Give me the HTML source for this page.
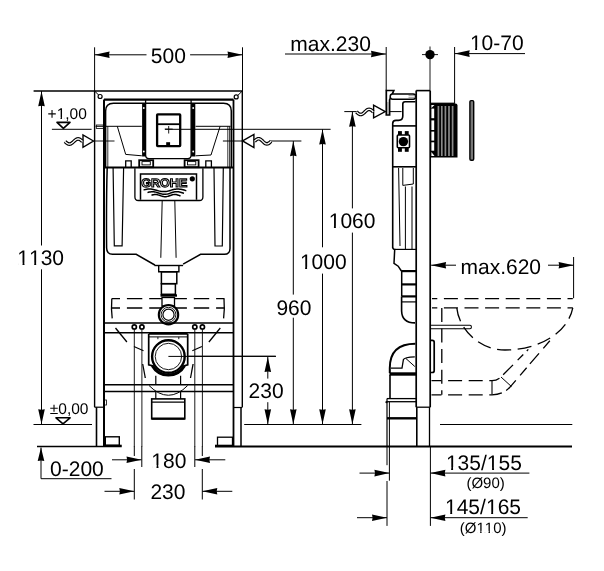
<!DOCTYPE html>
<html><head><meta charset="utf-8"><style>
html,body{margin:0;padding:0;background:#fff;}
svg{display:block;will-change:transform;}
text{font-family:"Liberation Sans",sans-serif;text-rendering:geometricPrecision;}
</style></head><body>
<svg width="604" height="571" viewBox="0 0 604 571" stroke="#000" stroke-linecap="butt" fill="none">
<line x1="94.6" y1="47.3" x2="94.6" y2="91" stroke-width="1.0" />
<line x1="242.5" y1="47.3" x2="242.5" y2="91" stroke-width="1.0" />
<line x1="94.6" y1="54.8" x2="146.5" y2="54.8" stroke-width="1.0" />
<line x1="190.1" y1="54.8" x2="242.5" y2="54.8" stroke-width="1.0" />
<polygon points="94.60,54.80 109.60,51.50 109.00,54.80 109.60,58.10" fill="#000" stroke="none"/>
<polygon points="242.50,54.80 227.50,51.50 228.10,54.80 227.50,58.10" fill="#000" stroke="none"/>
<text x="150.80" y="62.6" font-size="21" stroke="none" fill="#000">500</text>
<line x1="33.6" y1="91" x2="242.5" y2="91" stroke-width="1.6" />
<line x1="41.5" y1="91" x2="41.5" y2="245.5" stroke-width="1.0" />
<line x1="41.5" y1="269.3" x2="41.5" y2="424.3" stroke-width="1.0" />
<polygon points="41.50,91.30 38.20,106.30 41.50,105.70 44.80,106.30" fill="#000" stroke="none"/>
<polygon points="41.50,424.20 38.20,409.20 41.50,409.80 44.80,409.20" fill="#000" stroke="none"/>
<text x="17.30" y="265.3" font-size="21" stroke="none" fill="#000">1</text>
<rect x="18.30" y="262.80" width="4.22" height="3.10" fill="#fff" stroke="none"/>
<rect x="24.48" y="262.80" width="3.92" height="3.10" fill="#fff" stroke="none"/>
<text x="29.00" y="265.3" font-size="21" stroke="none" fill="#000">1</text>
<rect x="30.00" y="262.80" width="4.22" height="3.10" fill="#fff" stroke="none"/>
<rect x="36.18" y="262.80" width="3.92" height="3.10" fill="#fff" stroke="none"/>
<text x="40.68" y="265.3" font-size="21" stroke="none" fill="#000">30</text>
<text x="47.60" y="118.9" font-size="15.5" stroke="none" fill="#000">+</text>
<text x="56.65" y="118.9" font-size="15.5" stroke="none" fill="#000">1</text>
<rect x="57.39" y="117.05" width="3.11" height="2.45" fill="#fff" stroke="none"/>
<rect x="61.95" y="117.05" width="2.89" height="2.45" fill="#fff" stroke="none"/>
<text x="65.25" y="118.9" font-size="15.5" stroke="none" fill="#000">,00</text>
<polygon points="57,122.4 70,122.4 63.4,128.4" stroke-width="1.6" fill="none" stroke-linejoin="round"/>
<line x1="51.9" y1="129.3" x2="91.6" y2="129.3" stroke-width="1.0" />
<polygon points="93.5,141 83,135 83,147.3" stroke-width="1.4" fill="none" />
<polyline points="65.0,141.5 65.73,142.17 66.46,142.8 67.19,143.34 67.92,143.75 68.65,144.01 69.38,144.1 70.1,144.01 70.83,143.75 71.56,143.34 72.29,142.8 73.02,142.17 73.75,141.5 74.48,140.83 75.21,140.2 75.94,139.66 76.67,139.25 77.4,138.99 78.12,138.9 78.85,138.99 79.58,139.25 80.31,139.66 81.04,140.2 81.77,140.83 82.5,141.5" stroke-width="3.6" fill="none"/>
<polyline points="65.0,141.5 65.73,142.17 66.46,142.8 67.19,143.34 67.92,143.75 68.65,144.01 69.38,144.1 70.1,144.01 70.83,143.75 71.56,143.34 72.29,142.8 73.02,142.17 73.75,141.5 74.48,140.83 75.21,140.2 75.94,139.66 76.67,139.25 77.4,138.99 78.12,138.9 78.85,138.99 79.58,139.25 80.31,139.66 81.04,140.2 81.77,140.83 82.5,141.5" stroke-width="1.3" stroke="#fff" fill="none"/>
<line x1="93.5" y1="141" x2="114.5" y2="141" stroke-width="0.9" />
<text x="49.80" y="413.8" font-size="15.5" stroke="none" fill="#000">±0,00</text>
<polygon points="56,417.8 70.1,417.8 63,423.8" stroke-width="1.6" fill="none" stroke-linejoin="round"/>
<line x1="33.5" y1="424.5" x2="92" y2="424.5" stroke-width="1.0" />
<line x1="37" y1="446.5" x2="121.7" y2="446.5" stroke-width="1.6" />
<line x1="41" y1="447.5" x2="41" y2="478.7" stroke-width="1.0" />
<line x1="41" y1="478.7" x2="111.5" y2="478.7" stroke-width="1.0" />
<polygon points="41.00,447.60 37.70,461.10 41.00,460.50 44.30,461.10" fill="#000" stroke="none"/>
<text x="50.10" y="475.8" font-size="21" stroke="none" fill="#000">0-200</text>
<line x1="112" y1="459.8" x2="141.5" y2="459.8" stroke-width="1.0" />
<polygon points="141.50,459.80 126.50,456.50 127.10,459.80 126.50,463.10" fill="#000" stroke="none"/>
<line x1="195" y1="459.8" x2="225.3" y2="459.8" stroke-width="1.0" />
<polygon points="195.00,459.80 210.00,456.50 209.40,459.80 210.00,463.10" fill="#000" stroke="none"/>
<text x="151.30" y="467.6" font-size="21" stroke="none" fill="#000">1</text>
<rect x="152.30" y="465.10" width="4.22" height="3.10" fill="#fff" stroke="none"/>
<rect x="158.48" y="465.10" width="3.92" height="3.10" fill="#fff" stroke="none"/>
<text x="163.00" y="467.6" font-size="21" stroke="none" fill="#000">80</text>
<line x1="104.5" y1="491.3" x2="134.3" y2="491.3" stroke-width="1.0" />
<polygon points="134.30,491.30 119.30,488.00 119.90,491.30 119.30,494.60" fill="#000" stroke="none"/>
<line x1="202.3" y1="491.3" x2="232.3" y2="491.3" stroke-width="1.0" />
<polygon points="202.30,491.30 217.30,488.00 216.70,491.30 217.30,494.60" fill="#000" stroke="none"/>
<text x="150.40" y="499.1" font-size="21" stroke="none" fill="#000">230</text>
<line x1="134.3" y1="446" x2="134.3" y2="456" stroke-width="1.0" />
<line x1="134.3" y1="469" x2="134.3" y2="499.5" stroke-width="1.0" />
<line x1="141.8" y1="446" x2="141.8" y2="467" stroke-width="1.0" />
<line x1="194.8" y1="446" x2="194.8" y2="467" stroke-width="1.0" />
<line x1="202.3" y1="446" x2="202.3" y2="456" stroke-width="1.0" />
<line x1="202.3" y1="469" x2="202.3" y2="499.5" stroke-width="1.0" />
<line x1="270" y1="141" x2="301.4" y2="141" stroke-width="1.0" />
<line x1="293.3" y1="141" x2="293.3" y2="294.6" stroke-width="1.0" />
<line x1="293.3" y1="317.7" x2="293.3" y2="424.3" stroke-width="1.0" />
<polygon points="293.30,141.20 290.00,156.20 293.30,155.60 296.60,156.20" fill="#000" stroke="none"/>
<polygon points="293.30,424.20 290.00,409.20 293.30,409.80 296.60,409.20" fill="#000" stroke="none"/>
<text x="276.40" y="314.5" font-size="21" stroke="none" fill="#000">960</text>
<line x1="165" y1="129.3" x2="330.6" y2="129.3" stroke-width="1.0" />
<line x1="322.5" y1="129.3" x2="322.5" y2="247.3" stroke-width="1.0" />
<line x1="322.5" y1="273.6" x2="322.5" y2="424.3" stroke-width="1.0" />
<polygon points="322.50,129.50 319.20,144.50 322.50,143.90 325.80,144.50" fill="#000" stroke="none"/>
<polygon points="322.50,424.20 319.20,409.20 322.50,409.80 325.80,409.20" fill="#000" stroke="none"/>
<text x="299.90" y="269.4" font-size="21" stroke="none" fill="#000">1</text>
<rect x="300.90" y="266.90" width="4.22" height="3.10" fill="#fff" stroke="none"/>
<rect x="307.08" y="266.90" width="3.92" height="3.10" fill="#fff" stroke="none"/>
<text x="311.60" y="269.4" font-size="21" stroke="none" fill="#000">000</text>
<line x1="344.3" y1="111.6" x2="356.8" y2="111.6" stroke-width="1.0" />
<line x1="385.5" y1="111.6" x2="401.6" y2="111.6" stroke-width="1.0" />
<line x1="352.4" y1="111.7" x2="352.4" y2="208.4" stroke-width="1.0" />
<line x1="352.4" y1="232.6" x2="352.4" y2="424.3" stroke-width="1.0" />
<polygon points="352.40,111.80 349.10,126.80 352.40,126.20 355.70,126.80" fill="#000" stroke="none"/>
<polygon points="352.40,424.20 349.10,409.20 352.40,409.80 355.70,409.20" fill="#000" stroke="none"/>
<text x="328.70" y="228.4" font-size="21" stroke="none" fill="#000">1</text>
<rect x="329.70" y="225.90" width="4.22" height="3.10" fill="#fff" stroke="none"/>
<rect x="335.88" y="225.90" width="3.92" height="3.10" fill="#fff" stroke="none"/>
<text x="340.40" y="228.4" font-size="21" stroke="none" fill="#000">060</text>
<line x1="168" y1="356.2" x2="275.7" y2="356.2" stroke-width="1.0" />
<line x1="267.8" y1="357" x2="267.8" y2="378.6" stroke-width="1.0" />
<line x1="267.8" y1="402.2" x2="267.8" y2="424.3" stroke-width="1.0" />
<polygon points="267.80,357.10 264.50,372.10 267.80,371.50 271.10,372.10" fill="#000" stroke="none"/>
<polygon points="267.80,424.20 264.50,409.20 267.80,409.80 271.10,409.20" fill="#000" stroke="none"/>
<text x="248.60" y="398.3" font-size="21" stroke="none" fill="#000">230</text>
<line x1="244.2" y1="424.5" x2="361.4" y2="424.5" stroke-width="1.0" />
<line x1="440" y1="424.5" x2="572.3" y2="424.5" stroke-width="1.0" />
<line x1="215" y1="446.5" x2="572" y2="446.5" stroke-width="1.8" />
<text x="290.30" y="50.9" font-size="21" stroke="none" fill="#000">max.230</text>
<line x1="285" y1="54" x2="386" y2="54" stroke-width="1.0" />
<polygon points="386.00,54.00 371.00,50.70 371.60,54.00 371.00,57.30" fill="#000" stroke="none"/>
<line x1="386.2" y1="47" x2="386.2" y2="90.5" stroke-width="1.0" />
<circle cx="430" cy="54.6" r="4.7" stroke-width="0" fill="#000" stroke="none"/>
<line x1="422" y1="54.6" x2="438" y2="54.6" stroke-width="0.9" />
<line x1="430" y1="46.5" x2="430" y2="90.5" stroke-width="0.9" />
<text x="469.90" y="49.9" font-size="21" stroke="none" fill="#000">1</text>
<rect x="470.90" y="47.40" width="4.22" height="3.10" fill="#fff" stroke="none"/>
<rect x="477.08" y="47.40" width="3.92" height="3.10" fill="#fff" stroke="none"/>
<text x="481.60" y="49.9" font-size="21" stroke="none" fill="#000">0-70</text>
<line x1="454.7" y1="53.6" x2="525" y2="53.6" stroke-width="1.0" />
<polygon points="454.70,53.60 469.70,50.30 469.10,53.60 469.70,56.90" fill="#000" stroke="none"/>
<line x1="454.6" y1="47" x2="454.6" y2="103" stroke-width="1.0" />
<text x="460.50" y="273.6" font-size="21" stroke="none" fill="#000">max.620</text>
<line x1="431.1" y1="265.2" x2="456" y2="265.2" stroke-width="1.0" />
<polygon points="431.10,265.20 446.10,261.90 445.50,265.20 446.10,268.50" fill="#000" stroke="none"/>
<line x1="548" y1="265.2" x2="573.6" y2="265.2" stroke-width="1.0" />
<polygon points="573.60,265.20 558.60,261.90 559.20,265.20 558.60,268.50" fill="#000" stroke="none"/>
<line x1="573.6" y1="257" x2="573.6" y2="298.2" stroke-width="1.0" />
<line x1="359.5" y1="473.1" x2="389.4" y2="473.1" stroke-width="1.0" />
<polygon points="389.40,473.10 374.40,469.80 375.00,473.10 374.40,476.40" fill="#000" stroke="none"/>
<line x1="430.4" y1="473.1" x2="529.4" y2="473.1" stroke-width="1.0" />
<polygon points="430.40,473.10 445.40,469.80 444.80,473.10 445.40,476.40" fill="#000" stroke="none"/>
<text x="445.90" y="469.5" font-size="21" stroke="none" fill="#000">1</text>
<rect x="446.90" y="467.00" width="4.22" height="3.10" fill="#fff" stroke="none"/>
<rect x="453.08" y="467.00" width="3.92" height="3.10" fill="#fff" stroke="none"/>
<text x="457.60" y="469.5" font-size="21" stroke="none" fill="#000">35/</text>
<text x="486.85" y="469.5" font-size="21" stroke="none" fill="#000">1</text>
<rect x="487.85" y="467.00" width="4.22" height="3.10" fill="#fff" stroke="none"/>
<rect x="494.03" y="467.00" width="3.92" height="3.10" fill="#fff" stroke="none"/>
<text x="498.55" y="469.5" font-size="21" stroke="none" fill="#000">55</text>
<text x="466.40" y="487.5" font-size="15" stroke="none" fill="#000">(Ø90)</text>
<line x1="357" y1="517.7" x2="387" y2="517.7" stroke-width="1.0" />
<polygon points="387.00,517.70 372.00,514.40 372.60,517.70 372.00,521.00" fill="#000" stroke="none"/>
<line x1="430.4" y1="517.7" x2="527.7" y2="517.7" stroke-width="1.0" />
<polygon points="430.40,517.70 445.40,514.40 444.80,517.70 445.40,521.00" fill="#000" stroke="none"/>
<text x="445.00" y="514.4" font-size="21" stroke="none" fill="#000">1</text>
<rect x="446.00" y="511.90" width="4.22" height="3.10" fill="#fff" stroke="none"/>
<rect x="452.18" y="511.90" width="3.92" height="3.10" fill="#fff" stroke="none"/>
<text x="456.70" y="514.4" font-size="21" stroke="none" fill="#000">45/</text>
<text x="485.95" y="514.4" font-size="21" stroke="none" fill="#000">1</text>
<rect x="486.95" y="511.90" width="4.22" height="3.10" fill="#fff" stroke="none"/>
<rect x="493.13" y="511.90" width="3.92" height="3.10" fill="#fff" stroke="none"/>
<text x="497.65" y="514.4" font-size="21" stroke="none" fill="#000">65</text>
<text x="459.80" y="532.6" font-size="15" stroke="none" fill="#000">(Ø</text>
<text x="476.45" y="532.6" font-size="15" stroke="none" fill="#000">1</text>
<rect x="477.16" y="530.81" width="3.01" height="2.39" fill="#fff" stroke="none"/>
<rect x="481.58" y="530.81" width="2.80" height="2.39" fill="#fff" stroke="none"/>
<text x="484.80" y="532.6" font-size="15" stroke="none" fill="#000">1</text>
<rect x="485.51" y="530.81" width="3.01" height="2.39" fill="#fff" stroke="none"/>
<rect x="489.93" y="530.81" width="2.80" height="2.39" fill="#fff" stroke="none"/>
<text x="493.13" y="532.6" font-size="15" stroke="none" fill="#000">0)</text>
<line x1="387" y1="446" x2="387" y2="465.2" stroke-width="1.0" />
<line x1="387" y1="481" x2="387" y2="525.9" stroke-width="1.0" />
<line x1="389.4" y1="446" x2="389.4" y2="480.7" stroke-width="1.0" />
<line x1="430.4" y1="446" x2="430.4" y2="525.9" stroke-width="1.0" />
<line x1="94.6" y1="91" x2="94.6" y2="407.2" stroke-width="1.4" />
<line x1="104" y1="99.4" x2="104" y2="446.5" stroke-width="2.0" />
<line x1="242.3" y1="91" x2="242.3" y2="407.2" stroke-width="1.4" />
<line x1="233.5" y1="99.4" x2="233.5" y2="446.5" stroke-width="1.8" />
<line x1="94.6" y1="407.2" x2="104" y2="407.2" stroke-width="1.2" />
<line x1="233.5" y1="407.5" x2="242.3" y2="407.5" stroke-width="1.2" />
<line x1="96.5" y1="407.2" x2="96.5" y2="446.5" stroke-width="1.6" />
<line x1="241" y1="407.5" x2="241" y2="446.5" stroke-width="1.5" />
<line x1="104" y1="99.7" x2="233.5" y2="99.7" stroke-width="2.2" />
<line x1="94.6" y1="91" x2="98.6" y2="95" stroke-width="1.0" />
<circle cx="100.1" cy="96.5" r="2.0" stroke-width="1.2" fill="none" />
<line x1="242.3" y1="91" x2="237.7" y2="95.5" stroke-width="1.0" />
<circle cx="236.2" cy="96.9" r="2.0" stroke-width="1.2" fill="none" />
<rect x="105.3" y="436.8" width="14" height="8.5" rx="0" stroke-width="1.4" fill="none" />
<line x1="104.6" y1="445.5" x2="121.7" y2="445.5" stroke-width="1.6" />
<rect x="217.5" y="437.2" width="15" height="8.5" rx="0" stroke-width="1.3" fill="none" />
<line x1="215" y1="445.5" x2="233" y2="445.5" stroke-width="1.6" />
<rect x="104.5" y="400" width="2" height="5" rx="0" stroke-width="0.8" fill="none" />
<path d="M105.6,167.5 L105.6,111 Q105.6,103.2 113.5,103.2 L223.5,103.2 Q231.3,103.2 231.3,111 L231.3,167.5" stroke-width="1.5" fill="none" />
<path d="M107.2,167.5 Q106.2,200 106.6,248 Q106.8,254.3 112.5,254.3 L136.2,254.3 L154.4,264.8 L154.4,265.5" stroke-width="1.5" fill="none" />
<path d="M230,167.5 L230,248.5 Q230,254.3 224.4,254.3 L200.6,254.3 L183.1,264.1" stroke-width="1.5" fill="none" />
<line x1="107.8" y1="126.3" x2="107.8" y2="167.5" stroke-width="0.8" />
<line x1="227.8" y1="126.3" x2="227.8" y2="167.5" stroke-width="0.8" />
<line x1="229.6" y1="126.3" x2="229.6" y2="167.5" stroke-width="0.8" />
<line x1="104" y1="167.6" x2="233.5" y2="167.6" stroke-width="2.0" />
<line x1="95.6" y1="126.3" x2="141.8" y2="126.3" stroke-width="1.0" />
<polyline points="117.3,126.3 125.7,154.4 141.8,155.8" stroke-width="1.0" fill="none" />
<line x1="195.6" y1="126.3" x2="230.6" y2="126.3" stroke-width="1.0" />
<polyline points="220.1,126.3 211,155 195.6,155.8" stroke-width="1.0" fill="none" />
<rect x="96.3" y="125" width="7" height="3.4" rx="0" stroke-width="0.8" fill="none" />
<path d="M145.6,100 L145.6,155 Q145.6,158.6 149,158.6 L187.7,158.6 Q191.1,158.6 191.1,155 L191.1,100" stroke-width="1.3" fill="none" />
<rect x="142.1" y="103.2" width="3.5" height="53.3" rx="0" stroke-width="0" fill="#000" stroke="none"/>
<rect x="191.1" y="103.2" width="4.2" height="53.3" rx="0" stroke-width="0" fill="#000" stroke="none"/>
<circle cx="143.8" cy="108" r="0.9" stroke-width="0" fill="#fff" stroke="none"/>
<circle cx="143.8" cy="151.5" r="0.9" stroke-width="0" fill="#fff" stroke="none"/>
<circle cx="193.2" cy="108" r="0.9" stroke-width="0" fill="#fff" stroke="none"/>
<circle cx="193.2" cy="151.5" r="0.9" stroke-width="0" fill="#fff" stroke="none"/>
<rect x="157.1" y="114.3" width="23.1" height="31.8" rx="0.6" stroke-width="2.3" fill="none" />
<line x1="157.3" y1="124.2" x2="180.3" y2="124.2" stroke-width="1.8" />
<rect x="166.2" y="142.2" width="3.9" height="3" rx="0" stroke-width="0" fill="#000" stroke="none"/>
<line x1="164.7" y1="129.1" x2="172.7" y2="129.1" stroke-width="0.9" />
<line x1="168.7" y1="126" x2="168.7" y2="133.5" stroke-width="0.9" />
<polyline points="125.7,167 125.7,160.8 131.2,160.8 131.2,167" stroke-width="1.3" fill="none" />
<polyline points="205.8,167 205.8,160.8 211.4,160.8 211.4,167" stroke-width="1.3" fill="none" />
<rect x="139.2" y="160.2" width="14" height="7" rx="0" stroke-width="1.8" fill="none" />
<rect x="142" y="161.6" width="8.3" height="3.3" rx="0" stroke-width="0.9" fill="none" />
<rect x="184.6" y="160.2" width="14" height="7" rx="0" stroke-width="1.8" fill="none" />
<rect x="187.5" y="161.6" width="8.3" height="3.3" rx="0" stroke-width="0.9" fill="none" />
<path d="M134.9,168.3 L134.9,197 Q134.9,200.5 138.4,200.5 L199.4,200.5 Q202.9,200.5 202.9,197 L202.9,168.3" stroke-width="1.3" fill="none" />
<path d="M140.5,199.8 L140.5,173.9 L196.5,173.9 L196.5,199.8" stroke-width="1.5" fill="none" />
<text x="141.3" y="186.6" font-size="12" font-weight="bold" fill="#fff" stroke="#000" stroke-width="1.1" textLength="46" lengthAdjust="spacingAndGlyphs" font-family="Liberation Sans">GROHE</text>
<circle cx="192.3" cy="178.8" r="2.6" stroke-width="0" fill="#000" stroke="none"/>
<polyline points="143.6,189.92 144.67,189.64 145.73,189.39 146.8,189.2 147.87,189.07 148.94,189.01 150.0,189.01 151.07,189.09 152.14,189.24 153.21,189.44 154.28,189.69 155.34,189.98 156.41,190.28 157.48,190.59 158.54,190.87 159.61,191.13 160.68,191.34 161.75,191.49 162.81,191.58 163.88,191.6 164.95,191.54 166.02,191.42 167.09,191.23 168.15,190.99 169.22,190.72 170.29,190.42 171.36,190.11 172.42,189.82 173.49,189.55 174.56,189.32 175.62,189.15 176.69,189.04 177.76,189.0 178.83,189.03 179.9,189.13 180.96,189.3 182.03,189.52 183.1,189.79 184.17,190.08 185.23,190.38 186.3,190.68" stroke-width="1.5" fill="none" />
<polyline points="147.5,192.62 148.41,192.34 149.32,192.09 150.24,191.9 151.15,191.77 152.06,191.71 152.97,191.71 153.89,191.79 154.8,191.94 155.71,192.14 156.62,192.39 157.54,192.68 158.45,192.98 159.36,193.29 160.28,193.57 161.19,193.83 162.1,194.04 163.01,194.19 163.93,194.28 164.84,194.3 165.75,194.24 166.66,194.12 167.57,193.93 168.49,193.69 169.4,193.42 170.31,193.12 171.22,192.81 172.14,192.52 173.05,192.25 173.96,192.02 174.88,191.85 175.79,191.74 176.7,191.7 177.61,191.73 178.53,191.83 179.44,192.0 180.35,192.22 181.26,192.49 182.18,192.78 183.09,193.08 184.0,193.38" stroke-width="1.5" fill="none" />
<polyline points="151.5,195.27 152.22,195.04 152.95,194.83 153.68,194.67 154.4,194.56 155.12,194.5 155.85,194.51 156.57,194.58 157.3,194.7 158.03,194.87 158.75,195.09 159.47,195.33 160.2,195.58 160.93,195.84 161.65,196.09 162.38,196.3 163.1,196.48 163.82,196.61 164.55,196.68 165.28,196.7 166.0,196.65 166.72,196.55 167.45,196.39 168.18,196.19 168.9,195.95 169.62,195.7 170.35,195.44 171.07,195.19 171.8,194.97 172.53,194.77 173.25,194.63 173.97,194.53 174.7,194.5 175.43,194.53 176.15,194.61 176.88,194.75 177.6,194.94 178.32,195.16 179.05,195.41 179.78,195.67 180.5,195.93" stroke-width="1.5" fill="none" />
<polyline points="113.1,168 114.3,245.9 122.1,245.9 123.6,168" stroke-width="1.2" fill="none" />
<polyline points="214,168 215,246 222.3,246 223.3,168" stroke-width="1.2" fill="none" />
<line x1="162.2" y1="200.5" x2="160.8" y2="257.8" stroke-width="1.0" />
<line x1="174.8" y1="200.5" x2="176.1" y2="257.8" stroke-width="1.0" />
<polyline points="154.4,265.5 183.1,265.5" stroke-width="1.4" fill="none" />
<polyline points="158.7,265.5 158.7,271.8 178.9,271.8 178.9,265.5" stroke-width="1.4" fill="none" />
<rect x="161.4" y="271.8" width="15.4" height="11.9" rx="0" stroke-width="1.5" fill="none" />
<rect x="161.4" y="283.7" width="14" height="10.6" rx="0" stroke-width="1.5" fill="none" />
<line x1="160.5" y1="295.5" x2="177" y2="295.5" stroke-width="2.4" />
<line x1="111.5" y1="298.6" x2="224.6" y2="298.6" stroke-width="1.3" stroke-dasharray="15.4 6.9" stroke-dashoffset="6.9"/>
<line x1="111.5" y1="308.0" x2="224.6" y2="308.0" stroke-width="1.3" stroke-dasharray="15.4 6.9" stroke-dashoffset="6.9"/>
<path d="M111.8,299 Q111.0,309 112.2,318.4" stroke-width="1.3" fill="none" />
<path d="M224.0,299 Q224.8,309 223.6,318.4" stroke-width="1.3" fill="none" />
<line x1="115.5" y1="328" x2="126.9" y2="342" stroke-width="1.3" />
<line x1="220.3" y1="328" x2="208.9" y2="342" stroke-width="1.3" />
<line x1="133.9" y1="346.4" x2="143.5" y2="350.8" stroke-width="1.1" />
<line x1="201.9" y1="346.4" x2="192.3" y2="350.8" stroke-width="1.1" />
<line x1="142.7" y1="364" x2="145.3" y2="378" stroke-width="1.3" />
<line x1="193.1" y1="364" x2="190.5" y2="378" stroke-width="1.3" />
<rect x="162" y="297.5" width="12.5" height="8.5" rx="0" stroke-width="1.3" fill="#fff" />
<circle cx="168.5" cy="314.7" r="9.7" stroke-width="2.1" fill="#fff" />
<circle cx="168.5" cy="314.7" r="7.4" stroke-width="0.9" fill="none" />
<circle cx="168.5" cy="314.7" r="5.6" stroke-width="1.2" fill="none" />
<line x1="104" y1="323" x2="233.5" y2="323" stroke-width="1.6" />
<line x1="104" y1="332.8" x2="233.5" y2="332.8" stroke-width="1.5" />
<circle cx="134.3" cy="326.9" r="2.1" stroke-width="1.7" fill="none" />
<circle cx="141.9" cy="326.9" r="2.1" stroke-width="1.7" fill="none" />
<circle cx="194.8" cy="326.9" r="2.1" stroke-width="1.7" fill="none" />
<circle cx="202.4" cy="326.9" r="2.1" stroke-width="1.7" fill="none" />
<line x1="134.3" y1="329" x2="134.3" y2="446.5" stroke-width="0.9" />
<line x1="141.9" y1="329" x2="141.9" y2="446.5" stroke-width="0.9" />
<line x1="194.8" y1="329" x2="194.8" y2="446.5" stroke-width="0.9" />
<line x1="202.4" y1="329" x2="202.4" y2="446.5" stroke-width="0.9" />
<path d="M148.7,334 L148.7,364.8 L152.3,365.8 A18.6,18.6 0 0 0 184.5,365.8 L187.7,364.8 L187.7,334" stroke-width="1.7" fill="#fff" />
<path d="M152.3,365.8 A18.6,18.6 0 0 0 184.5,365.8" stroke-width="3.0" fill="none" />
<line x1="148.7" y1="333.6" x2="187.7" y2="333.6" stroke-width="2.4" />
<line x1="149" y1="336.9" x2="187.7" y2="336.9" stroke-width="1.0" />
<line x1="157.9" y1="336.9" x2="157.9" y2="339.2" stroke-width="0.9" />
<line x1="178.8" y1="336.9" x2="178.8" y2="339.2" stroke-width="0.9" />
<circle cx="168.4" cy="356.5" r="16.3" stroke-width="2.4" fill="#fff" />
<circle cx="168.4" cy="356.5" r="13.2" stroke-width="0.9" fill="none" />
<line x1="168.4" y1="356.4" x2="276" y2="356.4" stroke-width="1.0" />
<line x1="155.8" y1="375.7" x2="155.8" y2="384.8" stroke-width="1.2" />
<line x1="180.6" y1="375.7" x2="180.6" y2="384.8" stroke-width="1.2" />
<line x1="104" y1="384.8" x2="233.5" y2="384.8" stroke-width="1.6" />
<line x1="104" y1="391.5" x2="233.5" y2="391.5" stroke-width="1.5" />
<path d="M149,385.5 Q168.4,405 187.7,385.5" stroke-width="1.0" fill="none" />
<line x1="155.8" y1="391.5" x2="155.8" y2="398.9" stroke-width="1.2" />
<line x1="180.6" y1="391.5" x2="180.6" y2="398.9" stroke-width="1.2" />
<rect x="151.7" y="398.9" width="33.1" height="19.9" rx="0" stroke-width="1.6" fill="none" />
<line x1="151.7" y1="402.2" x2="184.8" y2="402.2" stroke-width="1.2" />
<line x1="151.7" y1="418.6" x2="184.8" y2="418.6" stroke-width="2.4" />
<polygon points="242.6,140.9 253.9,134.4 253.9,147.6" stroke-width="1.4" fill="none" />
<polyline points="254.5,141.3 255.19,140.63 255.88,140.0 256.56,139.46 257.25,139.05 257.94,138.79 258.62,138.7 259.31,138.79 260.0,139.05 260.69,139.46 261.38,140.0 262.06,140.63 262.75,141.3 263.44,141.97 264.12,142.6 264.81,143.14 265.5,143.55 266.19,143.81 266.88,143.9 267.56,143.81 268.25,143.55 268.94,143.14 269.62,142.6 270.31,141.97 271.0,141.3" stroke-width="3.6" fill="none"/>
<polyline points="254.5,141.3 255.19,140.63 255.88,140.0 256.56,139.46 257.25,139.05 257.94,138.79 258.62,138.7 259.31,138.79 260.0,139.05 260.69,139.46 261.38,140.0 262.06,140.63 262.75,141.3 263.44,141.97 264.12,142.6 264.81,143.14 265.5,143.55 266.19,143.81 266.88,143.9 267.56,143.81 268.25,143.55 268.94,143.14 269.62,142.6 270.31,141.97 271.0,141.3" stroke-width="1.3" stroke="#fff" fill="none"/>
<line x1="222.9" y1="141" x2="242.6" y2="141" stroke-width="1.0" />
<path d="M386.3,90.5 L393.8,90.5 L389.6,100 L389.6,115 L386.3,115 Z" stroke-width="1.7" fill="#fff" />
<rect x="387.2" y="102" width="1.6" height="12" rx="0" stroke-width="0" fill="#999" stroke="none"/>
<rect x="390.2" y="94" width="25.4" height="5.2" rx="2.4" stroke-width="1.5" fill="#fff" />
<line x1="408.5" y1="95.6" x2="415.5" y2="95.6" stroke-width="0.8" stroke="#888"/>
<line x1="408.5" y1="97.4" x2="415.5" y2="97.4" stroke-width="0.8" stroke="#888"/>
<polygon points="385.3,111.6 373.6,105.2 373.6,117.9" stroke-width="1.4" fill="none" />
<polyline points="356.5,111.9 357.2,112.57 357.9,113.2 358.6,113.74 359.3,114.15 360.0,114.41 360.7,114.5 361.4,114.41 362.1,114.15 362.8,113.74 363.5,113.2 364.2,112.57 364.9,111.9 365.6,111.23 366.3,110.6 367.0,110.06 367.7,109.65 368.4,109.39 369.1,109.3 369.8,109.39 370.5,109.65 371.2,110.06 371.9,110.6 372.6,111.23 373.3,111.9" stroke-width="3.6" fill="none"/>
<polyline points="356.5,111.9 357.2,112.57 357.9,113.2 358.6,113.74 359.3,114.15 360.0,114.41 360.7,114.5 361.4,114.41 362.1,114.15 362.8,113.74 363.5,113.2 364.2,112.57 364.9,111.9 365.6,111.23 366.3,110.6 367.0,110.06 367.7,109.65 368.4,109.39 369.1,109.3 369.8,109.39 370.5,109.65 371.2,110.06 371.9,110.6 372.6,111.23 373.3,111.9" stroke-width="1.3" stroke="#fff" fill="none"/>
<path d="M415.5,101.7 L405,101.7 Q402.8,101.7 402.8,104 L402.8,116 Q402.8,120.4 398.5,120.4 L396,120.4 Q392.7,120.4 392.7,123.5 L392.7,248" stroke-width="1.6" fill="none" />
<line x1="392.7" y1="125.9" x2="416.2" y2="125.9" stroke-width="1.6" />
<rect x="398" y="131.1" width="3.9" height="4" rx="0" stroke-width="0" fill="#000" stroke="none"/>
<rect x="404.8" y="131.1" width="3.9" height="4" rx="0" stroke-width="0" fill="#000" stroke="none"/>
<rect x="398" y="147.6" width="3.9" height="4.2" rx="0" stroke-width="0" fill="#000" stroke="none"/>
<rect x="404.8" y="147.6" width="3.9" height="4.2" rx="0" stroke-width="0" fill="#000" stroke="none"/>
<rect x="397.3" y="135" width="12.2" height="12.8" rx="1" stroke-width="1.6" fill="#fff" />
<circle cx="403.4" cy="141.6" r="4.7" stroke-width="0" fill="#000" stroke="none"/>
<line x1="416.2" y1="90.6" x2="430.1" y2="90.6" stroke-width="1.6" />
<line x1="416.2" y1="90.6" x2="416.2" y2="407.2" stroke-width="1.7" />
<line x1="430.2" y1="90.6" x2="430.2" y2="407.2" stroke-width="1.7" />
<line x1="416.2" y1="407.2" x2="430.2" y2="407.2" stroke-width="1.3" />
<line x1="416.8" y1="407.2" x2="416.8" y2="446.5" stroke-width="1.6" />
<line x1="429.5" y1="407.2" x2="429.5" y2="446.5" stroke-width="1.3" />
<path d="M430.6,103.6 L455.5,103.6 Q457.5,103.6 457.5,105.6 L457.5,157.4 L430.6,157.4 Z" stroke-width="0" fill="#000" stroke="none"/>
<line x1="438.4" y1="106" x2="438.4" y2="156" stroke-width="1.7" stroke="#8a8a8a"/>
<line x1="441.8" y1="106" x2="441.8" y2="156" stroke-width="1.7" stroke="#8a8a8a"/>
<line x1="445.4" y1="106" x2="445.4" y2="156" stroke-width="1.7" stroke="#8a8a8a"/>
<line x1="449.0" y1="106" x2="449.0" y2="156" stroke-width="1.7" stroke="#8a8a8a"/>
<line x1="452.6" y1="106" x2="452.6" y2="156" stroke-width="1.7" stroke="#8a8a8a"/>
<rect x="431.4" y="108.6" width="2.8" height="9.600000000000009" rx="0" stroke-width="0" fill="#fff" stroke="none"/>
<rect x="431.4" y="120.4" width="2.8" height="9.599999999999994" rx="0" stroke-width="0" fill="#fff" stroke="none"/>
<rect x="431.4" y="131.6" width="2.8" height="9.0" rx="0" stroke-width="0" fill="#fff" stroke="none"/>
<rect x="431.4" y="142.3" width="2.8" height="8.399999999999977" rx="0" stroke-width="0" fill="#fff" stroke="none"/>
<polygon points="431.4,108 434.5,105 431.4,105" stroke-width="0" fill="#fff" stroke="none"/>
<polygon points="431.4,152 434.5,156 431.4,156" stroke-width="0" fill="#fff" stroke="none"/>
<line x1="430.9" y1="103.3" x2="454.9" y2="103.3" stroke-width="1.3" />
<rect x="469.9" y="100.6" width="3.8" height="59.6" rx="1.2" stroke-width="1.4" fill="#777" />
<line x1="392.6" y1="166.8" x2="416.2" y2="166.8" stroke-width="1.6" />
<polyline points="398.6,168 400,246" stroke-width="1.0" fill="none" />
<polyline points="402.8,168 402.8,185.4 413.3,184 413.3,168" stroke-width="1.0" fill="none" />
<polyline points="405.4,186.5 405.4,249.7" stroke-width="1.0" fill="none" />
<polyline points="412,186.5 412,249.7" stroke-width="1.0" fill="none" />
<path d="M392.6,248 Q393.5,249.4 394.7,249.4 L394,263.4 L398.2,266.2 L401,270.4 L401.7,271.1 L401.7,296.4" stroke-width="1.5" fill="none" />
<line x1="394.7" y1="249.4" x2="416.2" y2="249.4" stroke-width="1.2" />
<line x1="401.7" y1="271.1" x2="416.2" y2="271.1" stroke-width="2.2" />
<line x1="401.7" y1="284.4" x2="416.2" y2="284.4" stroke-width="2.2" />
<line x1="401.7" y1="296.4" x2="416.2" y2="296.4" stroke-width="2.2" />
<path d="M401.6,296.4 L401.6,311 Q402,322.9 415,322.9" stroke-width="1.6" fill="none" />
<line x1="401.6" y1="301.9" x2="416.2" y2="301.9" stroke-width="1.2" />
<path d="M389.8,373 L389.8,368 Q389.8,343.7 415.4,343.7" stroke-width="2.0" fill="none" />
<path d="M391,368.2 L402,368.2 L403.4,359.6 Q404.5,357.2 414.8,356.8" stroke-width="1.3" fill="none" />
<line x1="406" y1="358.6" x2="414.8" y2="366.5" stroke-width="1.0" />
<line x1="389.4" y1="374" x2="416" y2="374" stroke-width="3.4" />
<line x1="390" y1="375" x2="390" y2="398.2" stroke-width="1.6" />
<line x1="387" y1="398.6" x2="416.2" y2="398.6" stroke-width="1.3" />
<line x1="387" y1="401.7" x2="416.2" y2="401.7" stroke-width="1.3" />
<circle cx="386.5" cy="402.2" r="1.1" stroke-width="0" fill="#000" stroke="none"/>
<line x1="387" y1="398.6" x2="387" y2="446.5" stroke-width="1.2" />
<line x1="389.4" y1="401.7" x2="389.4" y2="446.5" stroke-width="1.0" />
<line x1="387" y1="418.3" x2="416.2" y2="418.3" stroke-width="2.4" />
<path d="M431,340.4 L432.3,340.4 Q434.2,340.4 434.2,342.4 L434.2,370.5 Q434.2,372.5 432.3,372.5 L431,372.5" stroke-width="1.7" fill="none" />
<path d="M430.6,325.3 L470,325.3 Q471.4,325.3 471.4,327 Q471.4,328.8 470,328.8 L430.6,328.8" stroke-width="1.1" fill="none" />
<line x1="432" y1="298.6" x2="572.8" y2="298.6" stroke-width="1.3" stroke-dasharray="14 6.6" stroke-dashoffset="8.7"/>
<line x1="432" y1="307.9" x2="572.8" y2="307.9" stroke-width="1.3" stroke-dasharray="14 6.6" stroke-dashoffset="8.7"/>
<path d="M456.8,307.9 C459,330 480,350 505,350 C540,350 568,332 572.8,307.9" stroke-width="1.3" fill="none" stroke-dasharray="14 6.6" stroke-dashoffset="0"/>
<line x1="431.5" y1="380.7" x2="492" y2="380.7" stroke-width="1.3" stroke-dasharray="14 6.6" stroke-dashoffset="4"/>
<line x1="431.5" y1="394.8" x2="492" y2="394.8" stroke-width="1.3" stroke-dasharray="14 6.6" stroke-dashoffset="4"/>
<path d="M492,380.7 Q497.5,380.7 501.5,376.5 L528.3,349.4" stroke-width="1.3" fill="none" stroke-dasharray="8 5 14 6.6" stroke-dashoffset="0"/>
<path d="M492,394.8 Q503,394.8 509.8,387.3 L550.8,339.6" stroke-width="1.3" fill="none" stroke-dasharray="10 5 14 6.6" stroke-dashoffset="0"/>
<line x1="441.8" y1="307.9" x2="441.8" y2="394.8" stroke-width="1.3" stroke-dasharray="14 6.6" stroke-dashoffset="0"/>
<line x1="492" y1="381" x2="492" y2="394.5" stroke-width="1.1" />
<line x1="501" y1="377" x2="511.5" y2="386.6" stroke-width="1.0" />
</svg>
</body></html>
